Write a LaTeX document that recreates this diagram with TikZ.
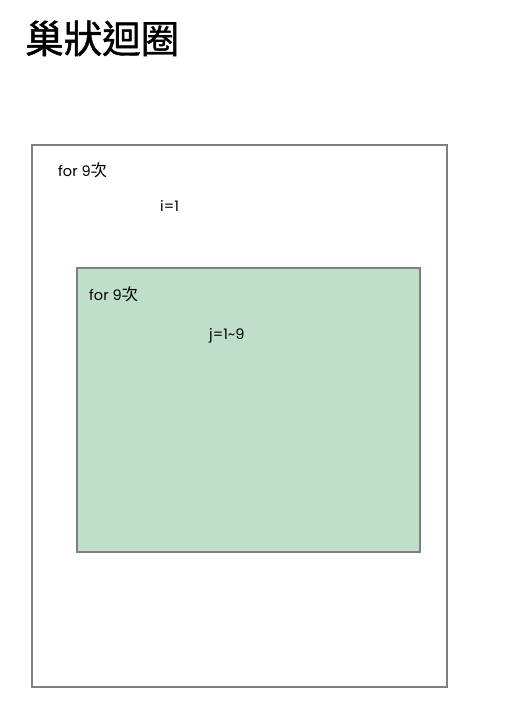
\documentclass[tikz,border=0pt]{standalone}
\usepackage{fontspec}
\setmainfont{Poppins}
\newfontfamily\cjk{Noto Sans CJK TC}
\newfontfamily\cjkt{Noto Sans CJK TC}[FakeBold=1.2]
\definecolor{boxgray}{HTML}{808080}
\definecolor{innergreen}{HTML}{BFDFCB}
\newcommand{\cjkci}{{\fontsize{16.5}{17}\selectfont\cjk 次}}
\tikzset{
  frame/.style={draw=boxgray, line width=1.2pt},
  lbl/.style={anchor=base west, inner sep=0pt, font=\fontsize{14.5}{17}\selectfont},
}
\begin{document}
\begin{tikzpicture}[x=1pt,y=-1pt]
\useasboundingbox (0,0) rectangle (508,709);
\node[anchor=base west, inner sep=0pt, font=\fontsize{38.5}{42}\selectfont\cjkt] (title) at (25,53) {巢狀迴圈};
\draw[frame, fill=white] (32,145) rectangle (447,687) coordinate (outerbr);
\node[lbl] (outerfor) at (58,176) {for 9\cjkci};
\node[lbl] (outeri) at (160,211) {i=1};
\draw[frame, fill=innergreen] (77,268) rectangle (420,552) coordinate (innerbr);
\node[lbl] (innerfor) at (89,300) {for 9\cjkci};
\node[lbl] (innerj) at (209,339) {j=1\char`\~9};
\end{tikzpicture}
\end{document}
